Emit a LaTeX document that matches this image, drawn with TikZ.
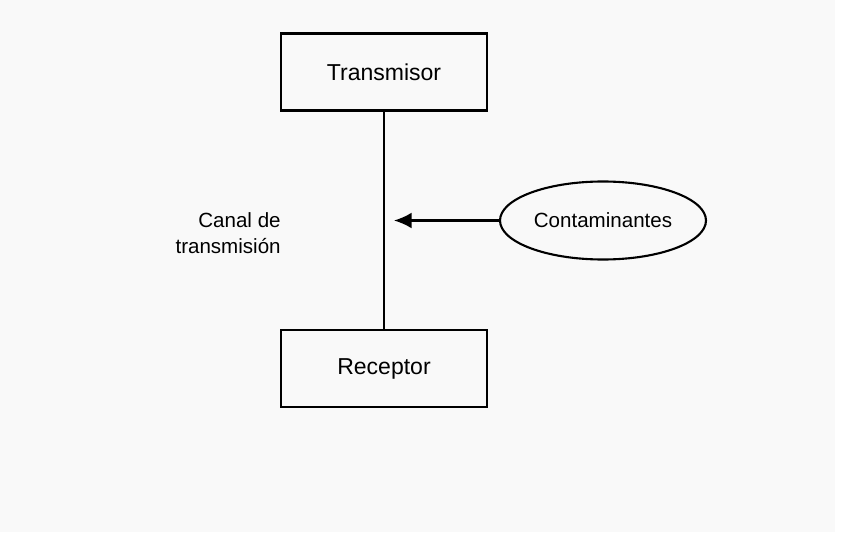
\documentclass[tikz,border=0pt]{standalone}
\usepackage{fontspec}
\setmainfont{Liberation Sans}
\usetikzlibrary{positioning,arrows.meta,calc,shapes}
\definecolor{bgpaper}{HTML}{F9F9F9}
\tikzset{
    x=0.02cm,
    y=-0.02cm,
    block/.style = {
        draw,
        shape=rectangle,
        minimum height=77*0.02cm,
        minimum width=206*0.02cm,
        line width=1.2pt,
        font=\fontsize{13.1}{15}\selectfont
    },
    source/.style = {
        draw,
        shape=ellipse,
        minimum height=78*0.02cm,
        minimum width=206*0.02cm,
        inner sep=0pt,
        line width=1.2pt,
        font=\fontsize{11.7}{14}\selectfont
    },
    label/.style = {
        align=right,
        anchor=east,
        inner sep=0pt,
        font=\fontsize{11.7}{14.7}\selectfont
    },
    >={Latex[length=10pt,width=9pt]},
}
\begin{document}
\begin{tikzpicture}
    \useasboundingbox (0,0) rectangle (843,534);
    \fill[bgpaper] (0,0) rectangle (835,532);

    \node[block] (tx) at (384,72) {Transmisor};
    \node[block] (rx) at (384,368.5) {Receptor};
    \node[source] (noise) at (603,220.5) {Contaminantes};
    \node[label] (channel) at (281,233) {Canal de\\transmisión};
    \coordinate (hit) at (394,220.5);

    \draw[line width=1.2pt] (tx) -- (rx);
    \draw[line width=1.2pt, ->] (noise) -- (hit);
\end{tikzpicture}
\end{document}
